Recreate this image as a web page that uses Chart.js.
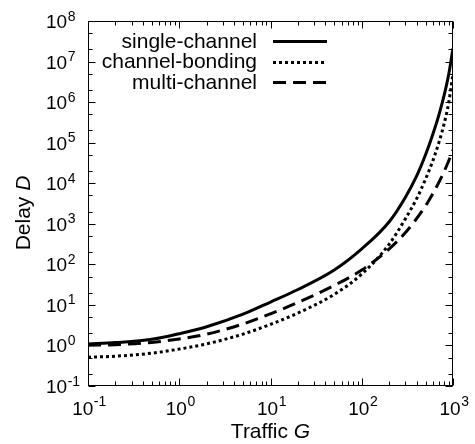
<!DOCTYPE html>
<html>
<head>
<meta charset="utf-8">
<script src="https://cdn.jsdelivr.net/npm/chart.js@4/dist/chart.umd.min.js"></script>
<style>
  html, body { margin: 0; padding: 0; background: #fff; }
  #wrap { width: 475px; height: 444px; }
</style>
</head>
<body>
<div id="wrap"><canvas id="c" width="475" height="444"></canvas></div>
<script>
// ---- data ----
const trafficG = [0.1, 0.2, 0.5, 1, 2, 5, 10, 20, 50, 100, 200, 300, 400, 500, 600, 700, 800, 900, 1000];
const singleChannel = [1.084, 1.175, 1.413, 1.95, 2.884, 5.888, 11.75, 23.99, 72.44, 239.9, 1122, 4467, 15136, 50119, 158489, 478630, 1479108, 5011872, 21379621];
const channelBonding = [0.513, 0.543, 0.646, 0.813, 1.096, 1.905, 3.311, 6.31, 18.2, 57.5, 316, 1318, 4169, 12589, 35481, 100000, 295121, 1000000, 5011872];
const multiChannel = [1.012, 1.047, 1.189, 1.445, 1.905, 3.388, 6.026, 11.48, 30.2, 72.44, 239.9, 602.6, 1349, 2754, 5495, 10471, 19498, 36308, 66069];
const seriesNames = ['single-channel', 'channel-bonding', 'multi-channel'];
const xDecades = [-1, 0, 1, 2, 3];
const yDecades = [-1, 0, 1, 2, 3, 4, 5, 6, 7, 8];
const xAxisTitle = ['Traffic ', 'G'];
const yAxisTitle = ['Delay ', 'D'];

const FONT = '"Liberation Sans", Arial, Helvetica, sans-serif';

function pts(vals) { return trafficG.map((g, i) => ({ x: g, y: vals[i] })); }

const styles = [
  { borderDash: [] },
  { borderDash: [3, 3] },
  { borderDash: [13, 7] }
];

const datasets = [singleChannel, channelBonding, multiChannel].map((vals, i) => ({
  label: seriesNames[i],
  data: pts(vals),
  borderColor: '#000',
  borderWidth: 3,
  borderDash: styles[i].borderDash,
  borderCapStyle: 'butt',
  pointRadius: 0,
  fill: false,
  cubicInterpolationMode: 'monotone'
}));

const decorPlugin = {
  id: 'decor',
  afterDraw(chart) {
    const ctx = chart.ctx;
    const a = chart.chartArea;
    const xs = chart.scales.x, ys = chart.scales.y;
    ctx.save();
    // frame
    ctx.strokeStyle = '#000';
    ctx.lineWidth = 1;
    ctx.setLineDash([]);
    ctx.strokeRect(Math.round(a.left) + 0.5, Math.round(a.top) + 0.5,
                   Math.round(a.right - a.left) - 1, Math.round(a.bottom - a.top) - 1);
    const L = Math.round(a.left) + 0.5, R = Math.round(a.right) - 0.5;
    const T = Math.round(a.top) + 0.5, B = Math.round(a.bottom) - 0.5;
    ctx.beginPath();
    xDecades.forEach(k => {
      for (let m = 1; m <= 9; m++) {
        if (k === 3 && m > 1) break;
        const v = m * Math.pow(10, k);
        const px = Math.round(xs.getPixelForValue(v)) + 0.5;
        const len = m === 1 ? 7 : 4;
        ctx.moveTo(px, B); ctx.lineTo(px, B - len);
        ctx.moveTo(px, T); ctx.lineTo(px, T + len);
      }
    });
    yDecades.forEach(k => {
      [1, 2, 5].forEach(m => {
        if (k === 8 && m > 1) return;
        const v = m * Math.pow(10, k);
        const py = Math.round(ys.getPixelForValue(v)) + 0.5;
        const len = m === 1 ? 7 : 4;
        ctx.moveTo(L, py); ctx.lineTo(L + len, py);
        ctx.moveTo(R, py); ctx.lineTo(R - len, py);
      });
    });
    ctx.stroke();

    ctx.fillStyle = '#000';
    const baseFont = '19px ' + FONT, expFont = '14px ' + FONT;
    // y tick labels
    yDecades.forEach(k => {
      const py = ys.getPixelForValue(Math.pow(10, k));
      ctx.font = baseFont; ctx.textAlign = 'left'; ctx.textBaseline = 'alphabetic';
      ctx.fillText('10', 46, py + 7);
      const w = ctx.measureText('10').width;
      ctx.font = expFont;
      ctx.fillText(String(k), 46 + w + 0.5, py - 0.5);
    });
    // x tick labels
    xDecades.forEach(k => {
      const px = xs.getPixelForValue(Math.pow(10, k));
      ctx.font = baseFont;
      const w1 = ctx.measureText('10').width;
      ctx.font = expFont;
      const e = String(k);
      const w2 = ctx.measureText(e).width;
      const start = px - (w1 + w2) / 2 + 1;
      ctx.textAlign = 'left'; ctx.textBaseline = 'alphabetic';
      ctx.font = baseFont;
      ctx.fillText('10', start, 415);
      ctx.font = expFont;
      ctx.fillText(e, start + w1 + 0.5, 406);
    });
    // axis titles
    const tFont = '21px ' + FONT, tItal = 'italic 21px ' + FONT;
    ctx.font = tFont;
    const xw1 = ctx.measureText(xAxisTitle[0]).width;
    ctx.font = tItal;
    const xw2 = ctx.measureText(xAxisTitle[1]).width;
    const cx = (a.left + a.right) / 2;
    let sx = cx - (xw1 + xw2) / 2;
    ctx.font = tFont; ctx.fillText(xAxisTitle[0], sx, 438);
    ctx.font = tItal; ctx.fillText(xAxisTitle[1], sx + xw1, 438);

    ctx.save();
    ctx.translate(30, 213);
    ctx.rotate(-Math.PI / 2);
    ctx.font = tFont;
    const yw1 = ctx.measureText(yAxisTitle[0]).width;
    ctx.font = tItal;
    const yw2 = ctx.measureText(yAxisTitle[1]).width;
    let sy = -(yw1 + yw2) / 2;
    ctx.font = tFont; ctx.fillText(yAxisTitle[0], sy, 0);
    ctx.font = tItal; ctx.fillText(yAxisTitle[1], sy + yw1, 0);
    ctx.restore();

    // legend
    const rows = [41, 61.5, 82];
    chart.data.datasets.forEach((ds, i) => {
      const y = rows[i];
      ctx.font = tFont; ctx.textAlign = 'right'; ctx.textBaseline = 'middle';
      ctx.fillText(ds.label, 257, y + 1);
      ctx.beginPath();
      ctx.lineWidth = ds.borderWidth;
      ctx.lineCap = 'butt';
      ctx.setLineDash(ds.borderDash || []);
      ctx.strokeStyle = ds.borderColor;
      ctx.moveTo(273, Math.round(y) + 0.5);
      ctx.lineTo(327, Math.round(y) + 0.5);
      ctx.stroke();
    });
    ctx.restore();
  }
};

new Chart(document.getElementById('c'), {
  type: 'line',
  data: { datasets },
  options: {
    responsive: false,
    devicePixelRatio: 1,
    animation: false,
    layout: { padding: { left: 0, right: 22, top: 21, bottom: 0 } },
    plugins: { legend: { display: false }, tooltip: { enabled: false } },
    scales: {
      x: {
        type: 'logarithmic', min: 0.1, max: 1000,
        grid: { display: false }, border: { display: false },
        ticks: { display: false },
        afterFit(s) { s.height = 58; }
      },
      y: {
        type: 'logarithmic', min: 0.1, max: 1e8,
        grid: { display: false }, border: { display: false },
        ticks: { display: false },
        afterFit(s) { s.width = 88; }
      }
    }
  },
  plugins: [decorPlugin]
});
</script>
</body>
</html>
